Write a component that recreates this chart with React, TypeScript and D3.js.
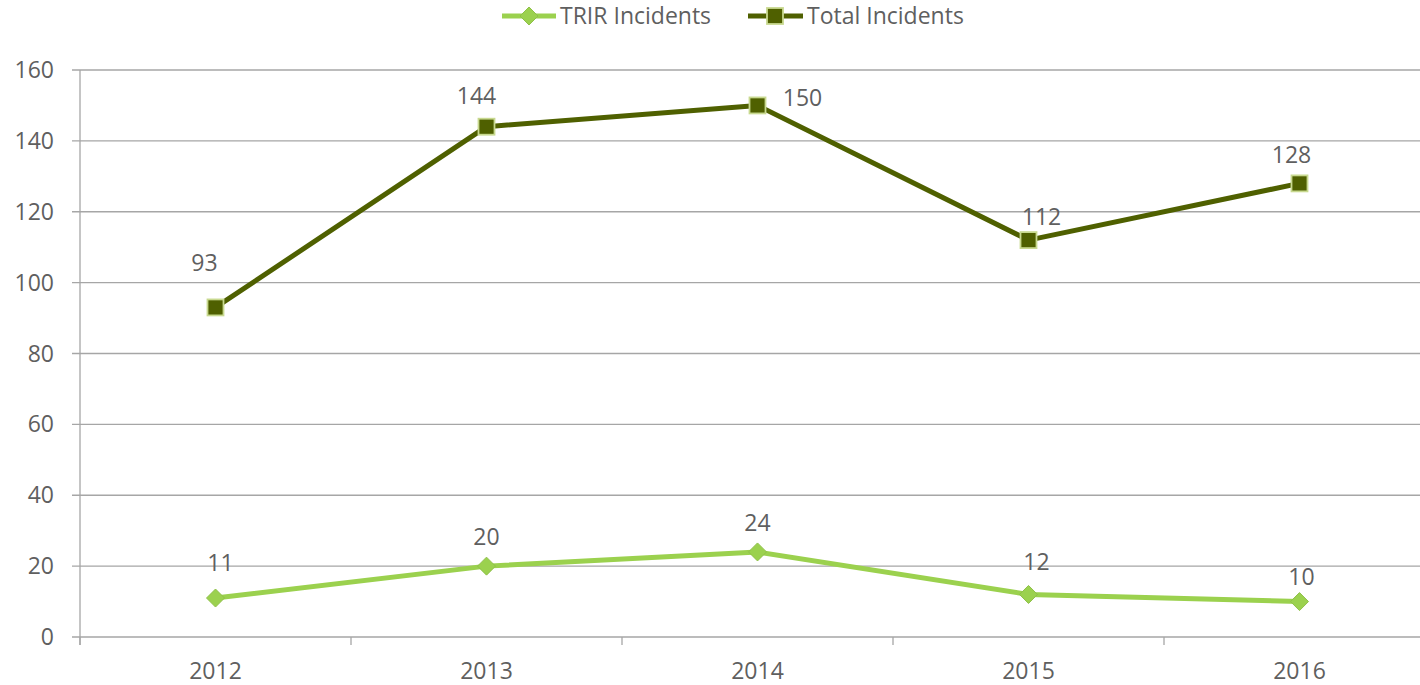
import React from "react";
import * as d3 from "d3";

const years = ["2012", "2013", "2014", "2015", "2016"];
const trirValues = [11, 20, 24, 12, 10];
const totalValues = [93, 144, 150, 112, 128];
const yTicks = [0, 20, 40, 60, 80, 100, 120, 140, 160];

// label offsets (style, in px) relative to each point
const totalLabelDx = [-11, -10, 45, 13, -8];
const totalLabelDy = [-44, -31, -7, -23, -28];
const trirLabelDx = [5, 0, 0, 8, 2];
const trirLabelDy = [-35, -29, -29, -33, -25];

const W = 1420;
const H = 685;
const left = 80;
const plotRight = 1435;
const top = 70;
const bottom = 637;
const font = "'Open Sans', 'Liberation Sans', sans-serif";
const fs = 23;
const textColor = "#5f5f5f";
const gridColor = "#a6a6a6";
const trirColor = "#9bd14e";
const totalColor = "#4f6000";

export default function App() {
  const x = d3.scaleBand<string>().domain(years).range([left, plotRight]);
  const y = d3.scaleLinear().domain([0, 160]).range([bottom, top]);
  const cx = (d: string) => (x(d) ?? 0) + x.bandwidth() / 2;
  const line = d3
    .line<number>()
    .x((_, i) => cx(years[i]))
    .y((v) => y(v));

  const boundaries = years.map((d) => x(d) ?? 0).concat([plotRight]);

  return (
    <svg
      width={W}
      height={H}
      style={{ position: "absolute", left: 0, top: 0, overflow: "hidden" }}
      fontFamily={font}
    >
      <rect width={W} height={H} fill="#fff" />
      {yTicks.map((t) => (
        <g key={t}>
          <line x1={72} x2={plotRight} y1={y(t)} y2={y(t)} stroke={gridColor} strokeWidth={1.3} />
          <text x={54} y={y(t)} dy="0.35em" textAnchor="end" fontSize={fs} fill={textColor}>
            {t}
          </text>
        </g>
      ))}
      <line x1={left} x2={left} y1={top} y2={bottom + 8} stroke={gridColor} strokeWidth={1.3} />
      {boundaries.map((b, i) => (
        <line key={i} x1={b} x2={b} y1={bottom} y2={bottom + 8} stroke={gridColor} strokeWidth={1.3} />
      ))}
      {years.map((yr) => (
        <text key={yr} x={cx(yr)} y={671} dy="0.35em" textAnchor="middle" fontSize={fs} fill={textColor}>
          {yr}
        </text>
      ))}

      <path d={line(totalValues) ?? ""} fill="none" stroke={totalColor} strokeWidth={5} strokeLinejoin="round" />
      <path d={line(trirValues) ?? ""} fill="none" stroke={trirColor} strokeWidth={5} strokeLinejoin="round" />

      {totalValues.map((v, i) => (
        <rect
          key={i}
          x={cx(years[i]) - 8}
          y={y(v) - 8}
          width={16}
          height={16}
          fill={totalColor}
          stroke="#c8d98f"
          strokeWidth={1.8}
        />
      ))}
      {trirValues.map((v, i) => (
        <path
          key={i}
          d={`M${cx(years[i])},${y(v) - 9}l9,9l-9,9l-9,-9z`}
          fill={trirColor}
          stroke="#8fc049"
          strokeWidth={1}
        />
      ))}

      {totalValues.map((v, i) => (
        <text
          key={i}
          x={cx(years[i]) + totalLabelDx[i]}
          y={y(v) + totalLabelDy[i]}
          textAnchor="middle"
          dy="0.35em"
          fontSize={fs}
          fill={textColor}
        >
          {v}
        </text>
      ))}
      {trirValues.map((v, i) => (
        <text
          key={i}
          x={cx(years[i]) + trirLabelDx[i]}
          y={y(v) + trirLabelDy[i]}
          dy="0.35em"
          textAnchor="middle"
          fontSize={fs}
          fill={textColor}
        >
          {v}
        </text>
      ))}

      <g>
        <line x1={502} x2={556} y1={16} y2={16} stroke={trirColor} strokeWidth={5} />
        <path d={`M529,7l9,9l-9,9l-9,-9z`} fill={trirColor} stroke="#8fc049" strokeWidth={1} />
        <text x={560} y={16} dy="0.35em" fontSize={fs} fill={textColor}>TRIR Incidents</text>
        <line x1={748} x2={803} y1={16} y2={16} stroke={totalColor} strokeWidth={5} />
        <rect x={767} y={8} width={16} height={16} fill={totalColor} stroke="#c8d98f" strokeWidth={1.8} />
        <text x={807} y={16} dy="0.35em" fontSize={fs} fill={textColor}>Total Incidents</text>
      </g>
    </svg>
  );
}
